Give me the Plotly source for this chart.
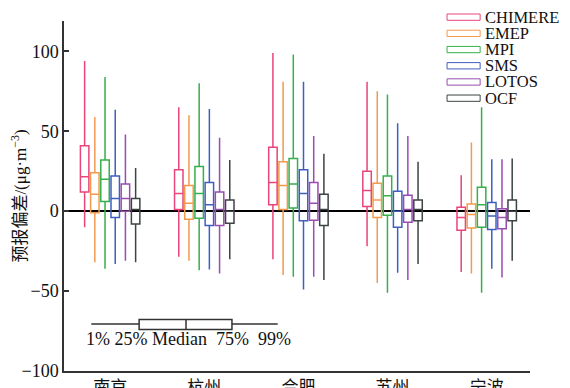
import plotly.graph_objects as go

cities = ['南京', '杭州', '合肥', '苏州', '宁波']
models = ['CHIMERE', 'EMEP', 'MPI', 'SMS', 'LOTOS', 'OCF']
colors = ['#e8457a', '#f39a4f', '#35b04a', '#3f5fc0', '#9a4cb0', '#3d4446']

p1 = {
    'CHIMERE': [-10, -28.5, -30, -22, -38],
    'EMEP': [-32, -31, -40, -45, -39],
    'MPI': [-36, -37, -41, -51, -51],
    'SMS': [-33, -36.5, -49, -38.5, -36],
    'LOTOS': [-31, -39, -41, -43, -41.5],
    'OCF': [-32, -30, -43, -33, -31],
}
q1 = {
    'CHIMERE': [12, 1, 4, 3, -12],
    'EMEP': [-1, -5, 1, -4, -10.5],
    'MPI': [6, -4.5, 2, -2.5, -10],
    'SMS': [-4, -9, -6, -10, -11.5],
    'LOTOS': [0, -9, -5.6, -7, -11],
    'OCF': [-8, -7.5, -9, -6, -6],
}
med = {
    'CHIMERE': [21.5, 11, 18, 13, -4],
    'EMEP': [10.6, 5, 16, 7, -2],
    'MPI': [20, 11, 17, 9.6, 4],
    'SMS': [8, 4, 11, 0, -3],
    'LOTOS': [8, 1, 5, 1, -4],
    'OCF': [1, 0, 1, 1, 0],
}
q3 = {
    'CHIMERE': [41, 26, 40, 25, 2.5],
    'EMEP': [24, 16, 31, 17.5, 4.5],
    'MPI': [32, 28, 33, 22, 15],
    'SMS': [22, 18, 26, 12.5, 5.5],
    'LOTOS': [17, 12, 18, 10, 1.5],
    'OCF': [8, 7, 10.6, 7, 7],
}
p99 = {
    'CHIMERE': [94, 65, 99, 81, 22.5],
    'EMEP': [59, 60, 81, 75, 43],
    'MPI': [84, 80, 98, 73, 65],
    'SMS': [63.5, 64, 81, 55, 32.5],
    'LOTOS': [48, 46, 47, 47, 32.5],
    'OCF': [27, 32, 36, 31, 33],
}

yticks = [-100, -50, 0, 50, 100]
schematic_labels = '1% 25% Median\u00a0\u00a075%\u00a0\u00a099%'

FONT = 'Liberation Serif, Times New Roman, Noto Sans CJK SC, serif'
AX = '#333333'

fig = go.Figure()
for m, c in zip(models, colors):
    fig.add_trace(go.Box(
        name=m, x=cities, q1=q1[m], median=med[m], q3=q3[m],
        lowerfence=p1[m], upperfence=p99[m],
        line=dict(color=c, width=1.5), fillcolor='rgba(0,0,0,0)',
        whiskerwidth=0, boxpoints=False, showlegend=False,
        hoverinfo='skip'))

shapes = []
# schematic box in lower left
sy, sb0, sb1 = -70.6, -67.7, -74.0
shapes.append(dict(type='line', xref='x', yref='y', x0=-0.2, x1=1.78, y0=sy, y1=sy,
                   line=dict(color=AX, width=1.5)))
shapes.append(dict(type='rect', xref='x', yref='y', x0=0.308, x1=1.294, y0=sb0, y1=sb1,
                   line=dict(color=AX, width=1.5), fillcolor='white'))
shapes.append(dict(type='line', xref='x', yref='y', x0=0.806, x1=0.806, y0=sb0, y1=sb1,
                   line=dict(color=AX, width=1.5)))

annotations = [dict(x=0.833, y=-79.8, xref='x', yref='y', text=schematic_labels,
                    showarrow=False, font=dict(family=FONT, size=18, color='#111'))]

# custom legend
leg_y0 = 1.011
for i, (m, c) in enumerate(zip(models, colors)):
    yy = leg_y0 - i * 0.0463
    shapes.append(dict(type='rect', xref='paper', yref='paper', x0=0.822, x1=0.893,
                       y0=yy - 0.009, y1=yy + 0.009, line=dict(color=c, width=1),
                       fillcolor='rgba(0,0,0,0)'))
    annotations.append(dict(x=0.9, y=yy, xref='paper', yref='paper', text=m,
                            showarrow=False, xanchor='left', yanchor='middle',
                            font=dict(family=FONT, size=16.5, color='#111')))

fig.update_layout(
    width=562, height=380,
    margin=dict(l=56, r=40, t=13, b=17),
    paper_bgcolor='white', plot_bgcolor='white',
    boxmode='group', boxgap=0.35, boxgroupgap=0.17,
    shapes=shapes, annotations=annotations,
    font=dict(family=FONT, size=16, color='#111'),
    xaxis=dict(range=[-0.49, 4.46], showgrid=False, zeroline=False,
               showline=True, linecolor=AX, linewidth=1.5, ticks='',
               tickfont=dict(family=FONT, size=17, color='#111'),
               automargin=False, fixedrange=True),
    yaxis=dict(range=[-100, 119], tickvals=yticks, showgrid=False,
               zeroline=True, zerolinecolor='black', zerolinewidth=1.5,
               showline=True, linecolor=AX, linewidth=1.5,
               ticks='inside', ticklen=5, tickcolor=AX, tickwidth=1.5,
               tickfont=dict(family=FONT, size=18, color='#111'),
               title=dict(text='预报偏差/(μg·m<sup>−3</sup>)', standoff=6,
                          font=dict(family=FONT, size=17, color='#111')),
               automargin=False, fixedrange=True),
)

fig.write_html('out.html')
